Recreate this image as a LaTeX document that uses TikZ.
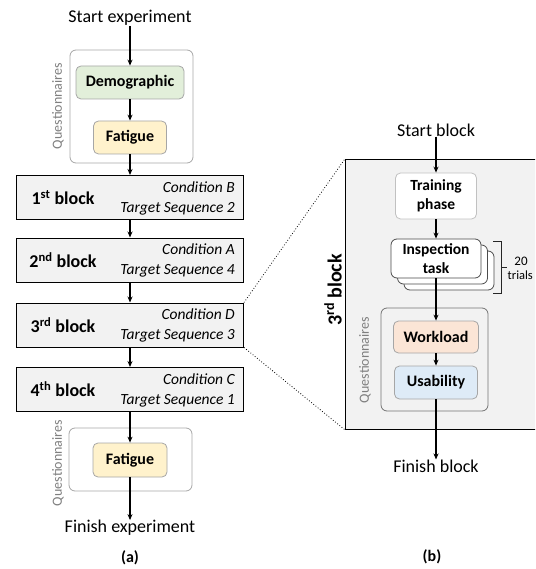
\documentclass[tikz,border=0pt]{standalone}
\usepackage{fontspec}
\setmainfont{Carlito}
\usetikzlibrary{arrows.meta}
\definecolor{blockfill}{HTML}{F2F2F2}
\definecolor{qborder}{HTML}{A6A6A6}
\definecolor{demofill}{HTML}{E2EFDA}
\definecolor{fatfill}{HTML}{FFF2CC}
\definecolor{workfill}{HTML}{FBE5D6}
\definecolor{usefill}{HTML}{DEEBF7}
\definecolor{qtext}{HTML}{7F7F7F}
\begin{document}
\begin{tikzpicture}[x=1pt,y=-1pt,
  arr/.style={line width=1.3pt,-{Stealth[length=6pt,width=5pt]}},
  qbox/.style={draw=qborder,line width=0.8pt,rounded corners=6pt,inner sep=0pt},
  inbox/.style={draw=qborder,line width=0.8pt,rounded corners=5pt,inner sep=0pt,font=\fontsize{16}{19}\selectfont\bfseries},
  blockbox/.style={draw=black,line width=1pt,fill=blockfill,minimum width=227pt,minimum height=44pt,inner sep=0pt},
  blabel/.style={font=\fontsize{18}{21}\selectfont\bfseries,inner sep=0pt},
  cond/.style={font=\fontsize{15.5}{20}\selectfont\itshape,align=right,anchor=east,inner sep=0pt},
  plain/.style={font=\fontsize{18}{21}\selectfont,inner sep=0pt},
  qlabel/.style={font=\fontsize{14}{16}\selectfont,text=qtext,rotate=90,inner sep=0pt},
  sub/.style={font=\fontsize{16}{19}\selectfont\bfseries,inner sep=0pt}]
\useasboundingbox (0,0) rectangle (535,569);
\clip (0,0) rectangle (535,569);

% ---------- (a) ----------
\node[plain] (startexp) at (130,18) {Start experiment};
\node[qbox,minimum width=123pt,minimum height=113pt] (q1) at (131.5,106.5) {};
\node[qlabel] (q1lab) at (58,106) {Questionnaires};
\node[inbox,fill=demofill,minimum width=108pt,minimum height=33pt] (demo) at (130,82.5) {Demographic};
\node[inbox,fill=fatfill,minimum width=73pt,minimum height=33pt] (fat1) at (130,137.5) {Fatigue};

\node[blockbox] (b1) at (130,197.5) {};
\node[blockbox] (b2) at (130,260) {};
\node[blockbox] (b3) at (130,325) {};
\node[blockbox] (b4) at (130,389.5) {};
\node[blabel] (b1l) at (63,197.5) {1\textsuperscript{st} block};
\node[blabel] (b2l) at (63,260) {2\textsuperscript{nd} block};
\node[blabel] (b3l) at (63,325) {3\textsuperscript{rd} block};
\node[blabel] (b4l) at (63,389.5) {4\textsuperscript{th} block};
\node[cond] (b1c) at (235,198) {Condition B\\Target Sequence 2};
\node[cond] (b2c) at (235,260.5) {Condition A\\Target Sequence 4};
\node[cond] (b3c) at (235,325.5) {Condition D\\Target Sequence 3};
\node[cond] (b4c) at (235,390) {Condition C\\Target Sequence 1};

\node[qbox,minimum width=123pt,minimum height=63pt] (q2) at (130.5,459.5) {};
\node[qlabel] (q2lab) at (58,463) {Questionnaires};
\node[inbox,fill=fatfill,minimum width=74pt,minimum height=34pt] (fat2) at (130,460) {Fatigue};
\node[plain] (finexp) at (130,528) {Finish experiment};
\node[sub] (la) at (130,558) {(a)};

\draw[arr] (startexp) -- (demo);
\draw[arr] (demo) -- (fat1);
\draw[arr] (fat1) -- (b1);
\draw[arr] (b1) -- (b2);
\draw[arr] (b2) -- (b3);
\draw[arr] (b3) -- (b4);
\draw[arr] (b4) -- (fat2);
\draw[arr] (fat2) -- (finexp);

% ---------- (b) ----------
\node[draw=black,line width=1pt,fill=blockfill,minimum width=200pt,minimum height=269pt,inner sep=0pt] (big) at (445,294.5) {};
\draw[dotted,line width=0.8pt] (b3.north east) -- (big.north west);
\draw[dotted,line width=0.8pt] (b3.south east) -- (big.south west);
\node[font=\fontsize{20}{24}\selectfont\bfseries,rotate=90,inner sep=0pt] (b3big) at (333,290) {3\textsuperscript{rd} block};

\node[plain] (startblk) at (436,130) {Start block};
\node[inbox,draw=qborder!70,fill=white,minimum width=81pt,minimum height=46pt,align=center,font=\fontsize{15.5}{19}\selectfont\bfseries] (train) at (436,196) {Training\\phase};

\node[draw=black!70,line width=0.8pt,rounded corners=6pt,fill=white,minimum width=90pt,minimum height=39pt] (insp3) at (449,270.5) {};
\node[draw=black!70,line width=0.8pt,rounded corners=6pt,fill=white,minimum width=90pt,minimum height=39pt] (insp2) at (442.5,264.5) {};
\node[draw=black!70,line width=0.8pt,rounded corners=6pt,fill=white,minimum width=90pt,minimum height=39pt,align=center,inner sep=0pt,font=\fontsize{15.5}{19}\selectfont\bfseries] (insp) at (436,258.5) {Inspection\\task};

\draw[line width=0.9pt,black!85] (493,241) -- (501,241) -- (501,293) -- (493,293);
\draw[line width=0.9pt,black!85] (501,267) -- (507,267);
\node[font=\fontsize{13}{15}\selectfont,inner sep=0pt] (tw) at (521,261) {20};
\node[font=\fontsize{12.5}{15}\selectfont,inner sep=0pt,anchor=west] (tr) at (507.5,275) {trials};

\node[qbox,draw=black!55,fill=blockfill,minimum width=107pt,minimum height=103pt] (q3) at (434.5,359.5) {};
\node[qlabel] (q3lab) at (365,360) {Questionnaires};
\node[inbox,fill=workfill,minimum width=85pt,minimum height=32pt] (work) at (436,337) {Workload};
\node[inbox,fill=usefill,minimum width=83pt,minimum height=33pt] (usab) at (436,382.5) {Usability};
\node[plain] (finblk) at (436,466) {Finish block};
\node[sub] (lb) at (432,557) {(b)};

\draw[arr] (startblk) -- (train);
\draw[arr] (train) -- (insp);
\draw[arr] (insp) -- (work);
\draw[arr] (work) -- (usab);
\draw[arr] (usab) -- (finblk);
\end{tikzpicture}
\end{document}
